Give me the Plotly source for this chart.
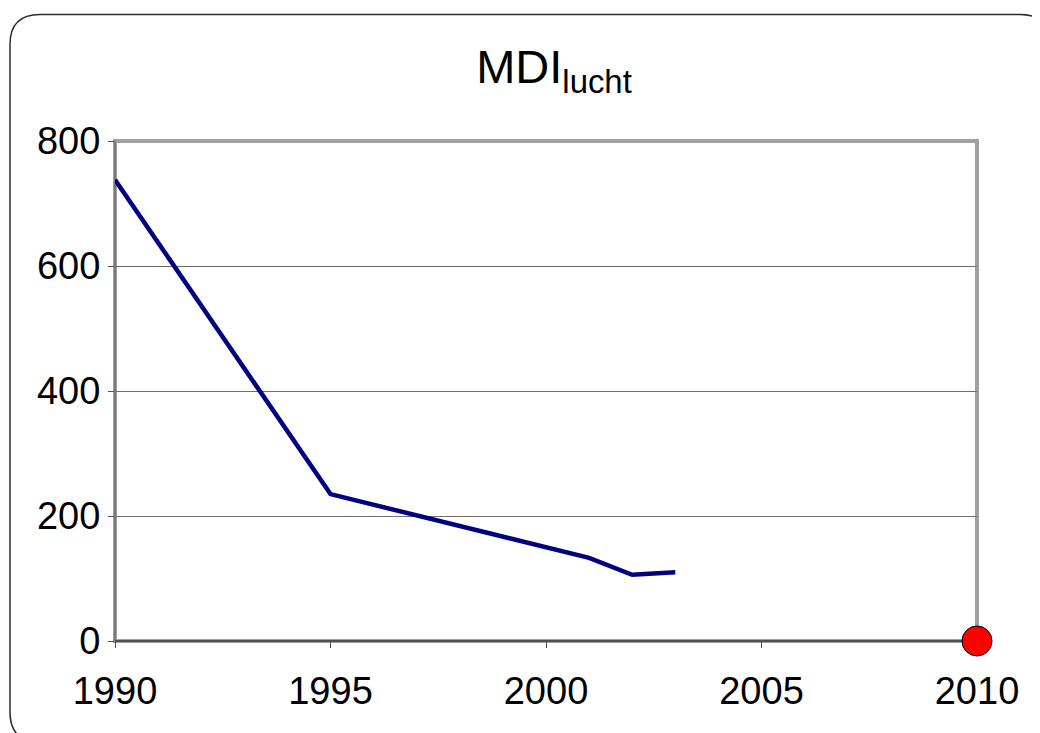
import plotly.graph_objects as go

# Data
years = [1990, 1995, 2001, 2002, 2003]
mdi_lucht = [738, 235, 133, 106, 110]
target_year = [2010]
target_value = [0]

x_ticks = [1990, 1995, 2000, 2005, 2010]
y_ticks = [0, 200, 400, 600, 800]

W, H = 1040, 733
OFF = 8  # page body margin offset
L, R, T, B = 115, 977, 141, 641  # plot area in reference px

def px(xp):
    return (xp - L) / (R - L)

def py(yp):
    return (B - yp) / (B - T)

fig = go.Figure()
fig.add_trace(go.Scatter(x=years, y=mdi_lucht, mode="lines",
                         line=dict(color="#000080", width=4.5),
                         showlegend=False, hoverinfo="skip"))
fig.add_trace(go.Scatter(x=target_year, y=target_value, mode="markers",
                         marker=dict(color="#ff0000", size=30,
                                     line=dict(color="#000000", width=1)),
                         cliponaxis=False, showlegend=False))

# rounded outer frame
x0, y0, x1, y1, r = 10, 14.5, 1050, 742, 30
path = (f"M {px(x0)},{py(y0 + r)} "
        f"Q {px(x0)},{py(y0)} {px(x0 + r)},{py(y0)} "
        f"L {px(x1 - r)},{py(y0)} "
        f"Q {px(x1)},{py(y0)} {px(x1)},{py(y0 + r)} "
        f"L {px(x1)},{py(y1 - r)} "
        f"Q {px(x1)},{py(y1)} {px(x1 - r)},{py(y1)} "
        f"L {px(x0 + r)},{py(y1)} "
        f"Q {px(x0)},{py(y1)} {px(x0)},{py(y1 - r)} Z")

shapes = [
    dict(type="path", path=path, xref="paper", yref="paper",
         line=dict(color="#2b2b2b", width=1.5), layer="below"),
    dict(type="rect", x0=0, x1=1, y0=0, y1=1, xref="paper", yref="paper",
         line=dict(color="#a0a0a0", width=4), layer="between"),
    dict(type="line", x0=0, x1=0, y0=0, y1=1, xref="paper", yref="paper",
         line=dict(color="#505050", width=1), layer="between"),
    dict(type="line", x0=0, x1=1, y0=0, y1=0, xref="paper", yref="paper",
         line=dict(color="#505050", width=2), layer="between"),
]

fig.update_layout(
    width=W, height=H,
    margin=dict(l=L - OFF, r=W - (R - OFF), t=T - OFF, b=H - (B - OFF)),
    paper_bgcolor="white", plot_bgcolor="white",
    font=dict(family="Liberation Sans, Arial, sans-serif", color="black"),
    title=dict(text="MDI<sub>lucht</sub>", x=(554 - OFF) / W, xanchor="center",
               y=1 - (67 - OFF) / H, yanchor="middle", yref="container",
               font=dict(size=47, color="black")),
    shapes=shapes,
    showlegend=False,
)
fig.update_xaxes(range=[1990, 2010], tickvals=x_ticks,
                 ticktext=[str(v) for v in x_ticks],
                 showgrid=False, zeroline=False, showline=False,
                 ticks="outside", ticklen=6, tickcolor="#505050", tickwidth=1,
                 tickfont=dict(size=38, color="black"), ticklabelstandoff=10)
fig.update_yaxes(range=[0, 800], tickvals=y_ticks,
                 ticktext=[str(v) for v in y_ticks],
                 showgrid=True, gridcolor="#6e6e6e", gridwidth=1,
                 zeroline=False, showline=False,
                 ticks="outside", ticklen=6, tickcolor="#505050", tickwidth=1,
                 tickfont=dict(size=38, color="black"))

fig.write_html("out.html")
